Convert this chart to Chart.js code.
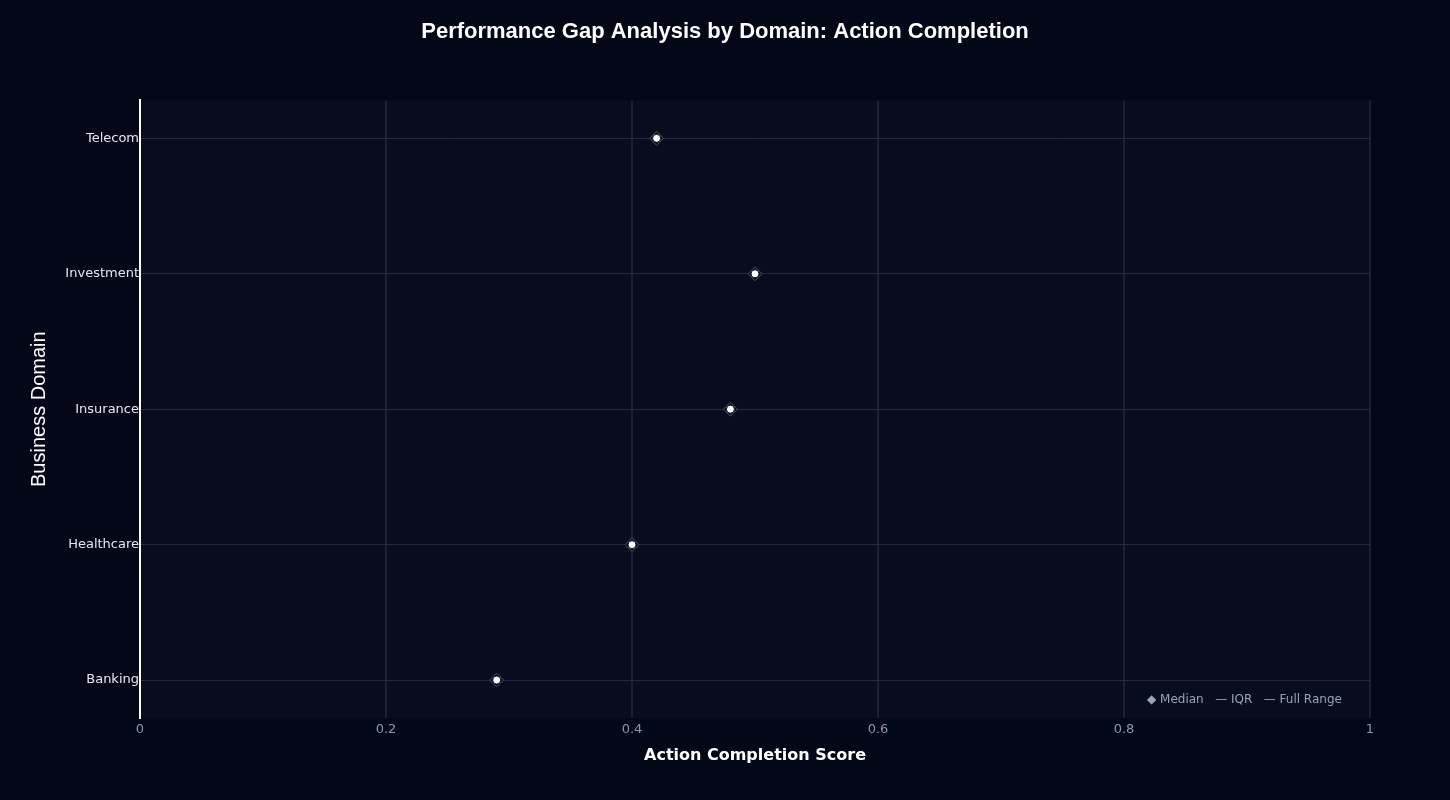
<!DOCTYPE html>
<html>
<head>
<meta charset="utf-8">
<script src="https://cdn.jsdelivr.net/npm/chart.js@4.4.1/dist/chart.umd.min.js"></script>
<style>
  html, body { margin: 0; padding: 0; background: #020818; }
  #wrap { position: relative; width: 1450px; height: 800px; }
  #legendNote { position: absolute; left: 1147px; top: 692px; font: 12px "DejaVu Sans", sans-serif; color: #9ba2b2; white-space: pre; }
</style>
</head>
<body>
<div id="wrap">
  <canvas id="c" width="1450" height="800"></canvas>
  <div id="legendNote">◆ Median   — IQR   — Full Range</div>
</div>
<script>
const domains = ["Telecom", "Investment", "Insurance", "Healthcare", "Banking"];
const medians = [0.42, 0.50, 0.48, 0.40, 0.29];
const xTicks = [0, 0.2, 0.4, 0.6, 0.8, 1];

const pts = medians.map((v, i) => ({ x: v, y: i }));

const plotBg = {
  id: 'plotBg',
  beforeDraw(chart) {
    const { ctx, chartArea: a } = chart;
    ctx.save();
    ctx.fillStyle = '#070d1e';
    ctx.fillRect(a.left, a.top, a.right - a.left, a.bottom - a.top);
    ctx.restore();
  }
};

new Chart(document.getElementById('c'), {
  type: 'scatter',
  data: {
    datasets: [
      {
        label: 'Median',
        data: pts,
        pointStyle: 'circle',
        pointRadius: 4,
        pointBackgroundColor: '#ffffff',
        pointBorderColor: '#0b1020',
        pointBorderWidth: 1,
        order: 0
      },
      {
        label: 'halo',
        data: pts,
        pointStyle: 'rectRot',
        pointRadius: 7,
        pointBackgroundColor: '#0a1022',
        pointBorderColor: '#4a5060',
        pointBorderWidth: 1,
        order: 1
      }
    ]
  },
  options: {
    responsive: false,
    animation: false,
    layout: { padding: 0 },
    plugins: {
      legend: { display: false },
      tooltip: { enabled: false },
      title: {
        display: true,
        text: 'Performance Gap Analysis by Domain: Action Completion',
        color: '#ffffff',
        font: { family: '"Liberation Sans", Arial, sans-serif', size: 22, weight: 'bold' },
        padding: { top: 19, bottom: 55 }
      }
    },
    scales: {
      x: {
        type: 'linear',
        min: 0, max: 1,
        afterFit(s) { s.height = 82; },
        afterBuildTicks(s) { s.ticks = xTicks.map(v => ({ value: v })); },
        ticks: {
          color: '#8e96a6',
          font: { family: '"DejaVu Sans", sans-serif', size: 13 },
          padding: 4,
          callback: v => String(v)
        },
        grid: { color: '#1a2030', lineWidth: 2, drawTicks: false },
        border: { display: false },
        title: {
          display: true,
          text: 'Action Completion Score',
          color: '#ffffff',
          font: { family: '"DejaVu Sans", sans-serif', size: 16, weight: 'bold' },
          padding: { top: 0, bottom: 35 }
        }
      },
      y: {
        type: 'linear',
        reverse: true,
        min: -0.28, max: 4.28,
        afterFit(s) { s.width = 140; },
        afterBuildTicks(s) { s.ticks = domains.map((_, i) => ({ value: i })); },
        ticks: {
          color: '#e6e8ee',
          font: { family: '"DejaVu Sans", sans-serif', size: 13 },
          padding: 1,
          callback: v => domains[v]
        },
        grid: { color: '#242a3a', lineWidth: 1, drawTicks: false },
        border: { display: true, color: '#ffffff', width: 2 },
        title: {
          display: true,
          text: 'Business Domain',
          color: '#ffffff',
          font: { family: '"Liberation Sans", Arial, sans-serif', size: 20 },
          padding: { top: 27, bottom: 0 }
        }
      },
      yRight: {
        type: 'linear',
        position: 'right',
        min: 0, max: 1,
        afterFit(s) { s.width = 80; },
        ticks: { display: false },
        grid: { display: false, drawTicks: false },
        border: { display: false },
        title: { display: false }
      }
    }
  },
  plugins: [plotBg]
});
</script>
</body>
</html>
